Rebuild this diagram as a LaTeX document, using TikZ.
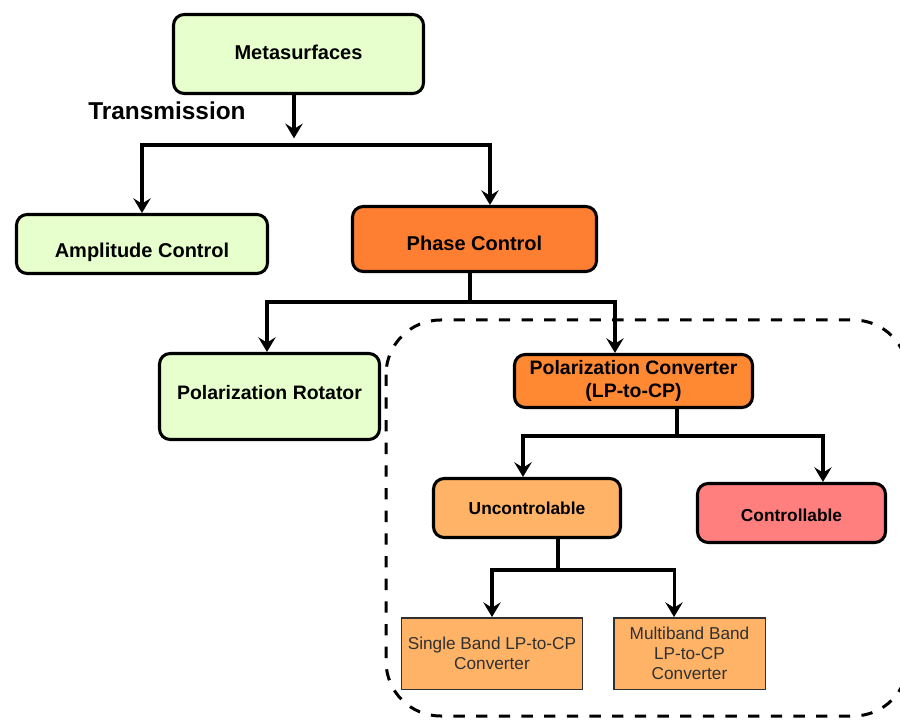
\documentclass[tikz,border=0pt]{standalone}
\usepackage{fontspec}
\setmainfont{Liberation Sans}
\usetikzlibrary{arrows.meta}

\definecolor{lightgreen}{HTML}{E6FFCC}
\definecolor{phaseorange}{HTML}{FF7F32}
\definecolor{convorange}{HTML}{FF8833}
\definecolor{paleorange}{HTML}{FFB366}
\definecolor{lightred}{HTML}{FF7F7F}
\definecolor{boxgray}{HTML}{2E3033}

% move a label inside its box without changing the box
\newcommand{\nudge}[2]{\raisebox{#1}[\height][\depth]{#2}}

\begin{document}
\begin{tikzpicture}
        [x=0.75pt, y=-0.75pt,
        block/.style={draw, line width=2.3pt, rounded corners=8pt, align=center, inner sep=2pt, font=\bfseries\fontsize{15}{18}\selectfont},
        leaf/.style={draw=boxgray, line width=1.1pt, fill=paleorange, text=boxgray, align=center, inner sep=2pt, minimum height=53.6pt, font=\fontsize{12.9}{14.8}\selectfont},
        link/.style={line width=2.3pt, -{Stealth[length=11pt, width=13pt, inset=4pt]}},
        region/.style={dashed, line width=2.25pt, dash pattern=on 8.5pt off 8.5pt, rounded corners=41pt}]

        \useasboundingbox (0,0) rectangle (900,720);

        % dashed region round the LP-to-CP branch (runs off the right edge)
        \begin{scope}
            \clip (0,0) rectangle (900,720);
            \draw[region] (386,320) rectangle (908,716);
        \end{scope}

        % top level
        \node[block, fill=lightgreen, minimum width=187.5pt, minimum height=59.25pt] (meta) at (298.5,54) {\nudge{1pt}{Metasurfaces}};
        \node[font=\bfseries\fontsize{18.3}{22}\selectfont] (trans) at (167,111) {Transmission};

        % second level
        \node[block, fill=lightgreen, minimum width=188.25pt, minimum height=44.25pt] (amp) at (142,244) {\nudge{-6pt}{Amplitude Control}};
        \node[block, fill=phaseorange, minimum width=183pt, minimum height=48.75pt] (phase) at (474.5,239) {\nudge{-3pt}{Phase Control}};

        % third level
        \node[block, fill=lightgreen, minimum width=165pt, minimum height=64.5pt, font=\bfseries\fontsize{14.6}{17.5}\selectfont] (rot) at (269.5,396.5) {\nudge{3pt}{Polarization Rotator}};
        \node[block, fill=convorange, minimum width=178.5pt, minimum height=39.75pt, font=\bfseries\fontsize{14.6}{17}\selectfont] (conv) at (633.5,381) {Polarization Converter\\(LP-to-CP)};

        % fourth level
        \node[block, fill=paleorange, minimum width=140.25pt, minimum height=44.25pt, font=\bfseries\fontsize{13}{15.5}\selectfont] (unc) at (527,508) {Uncontrolable};
        \node[block, fill=lightred, minimum width=141pt, minimum height=44.25pt, font=\bfseries\fontsize{13}{15.5}\selectfont] (ctrl) at (791.5,513) {\nudge{-2pt}{Controllable}};

        % leaves
        \node[leaf, minimum width=135.4pt] (single) at (492,653.5) {Single Band LP-to-CP\\Converter};
        \node[leaf, minimum width=113.6pt] (multi) at (689.5,653.5) {Multiband Band\\LP-to-CP\\Converter};

        % branch points
        \coordinate (tr) at (294,145);
        \coordinate (pb) at (470,302);
        \coordinate (cb) at (677,436);
        \coordinate (ub) at (558,570);

        \draw[link] (meta.south -| tr) -- ([yshift=5pt]tr);
        \draw[link] (tr) -| (amp.north);
        \draw[link] (tr) -| ([xshift=11.6pt]phase.north);

        \draw[link] (phase.south -| pb) -- (pb) -| ([xshift=-1.9pt]rot.north);
        \draw[link] (pb) -| ([xshift=-13.9pt]conv.north);

        \draw[link] (conv.south -| cb) -- (cb) -| ([xshift=-3pt]unc.north);
        \draw[link] (cb) -| ([xshift=23.6pt]ctrl.north);

        \draw[link] (unc.south -| ub) -- (ub) -| (single.north);
        \draw[link] (ub) -| ([xshift=-11.6pt]multi.north);
    \end{tikzpicture}
\end{document}
